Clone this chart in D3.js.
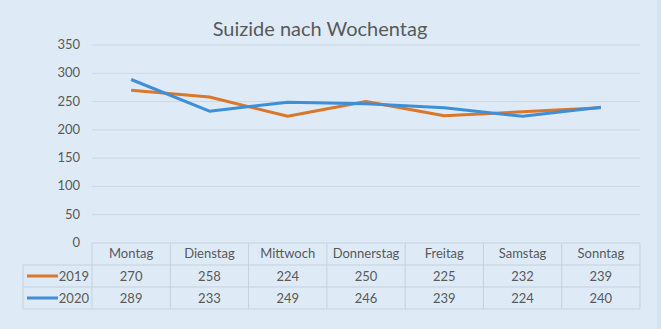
<!DOCTYPE html>
<html lang="de">
<head>
<meta charset="utf-8">
<title>Suizide nach Wochentag</title>
<script src="https://d3js.org/d3.v7.min.js"></script>
<style>
  body { margin: 0; background: #deebf7; }
  svg text { font-family: Lato, "Open Sans", sans-serif; fill: #595959; }
</style>
</head>
<body>
<script>
// data
const days = ["Montag", "Dienstag", "Mittwoch", "Donnerstag", "Freitag", "Samstag", "Sonntag"];
const years = ["2019", "2020"];
const values2019 = [270, 258, 224, 250, 225, 232, 239];
const values2020 = [289, 233, 249, 246, 239, 224, 240];
const yTicks = [0, 50, 100, 150, 200, 250, 300, 350];
const colors = ["#d9772b", "#3f8ed8"];

const series = [
  {name: years[0], values: values2019, color: colors[0]},
  {name: years[1], values: values2020, color: colors[1]}
];

const width = 661, height = 329;
const plotLeft = 92, plotRight = 640, plotTop = 45, plotBottom = 243;
const rowH = 22;

const svg = d3.select("body").append("svg")
  .attr("width", width)
  .attr("height", height);

svg.append("rect").attr("width", width).attr("height", height).attr("fill", "#deebf7");
// faint right edge like the screenshot
svg.append("rect").attr("x", 657).attr("width", 4).attr("height", height).attr("fill", "#d6e3ef");

// title
svg.append("text")
  .attr("x", 320).attr("y", 36)
  .attr("text-anchor", "middle")
  .style("font-size", "20px")
  .text("Suizide nach Wochentag");

const x = d3.scaleBand().domain(days).range([plotLeft, plotRight]);
const y = d3.scaleLinear().domain([0, 350]).range([plotBottom, plotTop]);

// gridlines + y labels
svg.append("g").selectAll("line")
  .data(yTicks.filter(d => d > 0))
  .join("line")
  .attr("x1", plotLeft).attr("x2", plotRight)
  .attr("y1", d => y(d)).attr("y2", d => y(d))
  .attr("stroke", "#cbd8e5").attr("stroke-width", 1);

svg.append("g").selectAll("text")
  .data(yTicks)
  .join("text")
  .attr("x", 80).attr("y", d => y(d) + 4)
  .attr("text-anchor", "end")
  .style("font-size", "13px")
  .text(d => d);

// lines
const line = d3.line()
  .x((d, i) => x(days[i]) + x.bandwidth() / 2)
  .y(d => y(d));

svg.append("g").selectAll("path")
  .data(series)
  .join("path")
  .attr("d", d => line(d.values))
  .attr("fill", "none")
  .attr("stroke", d => d.color)
  .attr("stroke-width", 3)
  .attr("stroke-linejoin", "round");

// data table
const grid = "#c5d1dc";
const tbl = svg.append("g");
tbl.append("line").attr("x1", plotLeft).attr("x2", plotRight).attr("y1", plotBottom).attr("y2", plotBottom).attr("stroke", grid);
[1, 2, 3].forEach(r => {
  tbl.append("line").attr("x1", 23).attr("x2", plotRight)
    .attr("y1", plotBottom + r * rowH).attr("y2", plotBottom + r * rowH).attr("stroke", grid);
});
tbl.append("line").attr("x1", 23).attr("x2", 23).attr("y1", plotBottom + rowH).attr("y2", plotBottom + 3 * rowH).attr("stroke", grid);
days.forEach(d => {
  tbl.append("line").attr("x1", x(d)).attr("x2", x(d))
    .attr("y1", plotBottom).attr("y2", plotBottom + 3 * rowH).attr("stroke", grid);
});
tbl.append("line").attr("x1", plotRight).attr("x2", plotRight).attr("y1", plotBottom).attr("y2", plotBottom + 3 * rowH).attr("stroke", grid);

tbl.selectAll("text.day")
  .data(days)
  .join("text")
  .attr("class", "day")
  .attr("x", d => x(d) + x.bandwidth() / 2)
  .attr("y", plotBottom + 15)
  .attr("text-anchor", "middle")
  .style("font-size", "13px")
  .text(d => d);

series.forEach((s, r) => {
  const cy = plotBottom + (r + 1) * rowH + 11;
  tbl.append("line")
    .attr("x1", 27).attr("x2", 58)
    .attr("y1", cy).attr("y2", cy)
    .attr("stroke", s.color).attr("stroke-width", 3);
  tbl.append("text")
    .attr("x", 89).attr("y", cy + 5)
    .attr("text-anchor", "end")
    .style("font-size", "13px")
    .text(s.name);
  tbl.selectAll("text.v" + r)
    .data(s.values)
    .join("text")
    .attr("x", (d, i) => x(days[i]) + x.bandwidth() / 2)
    .attr("y", cy + 5)
    .attr("text-anchor", "middle")
    .style("font-size", "13px")
    .text(d => d);
});
</script>
</body>
</html>
